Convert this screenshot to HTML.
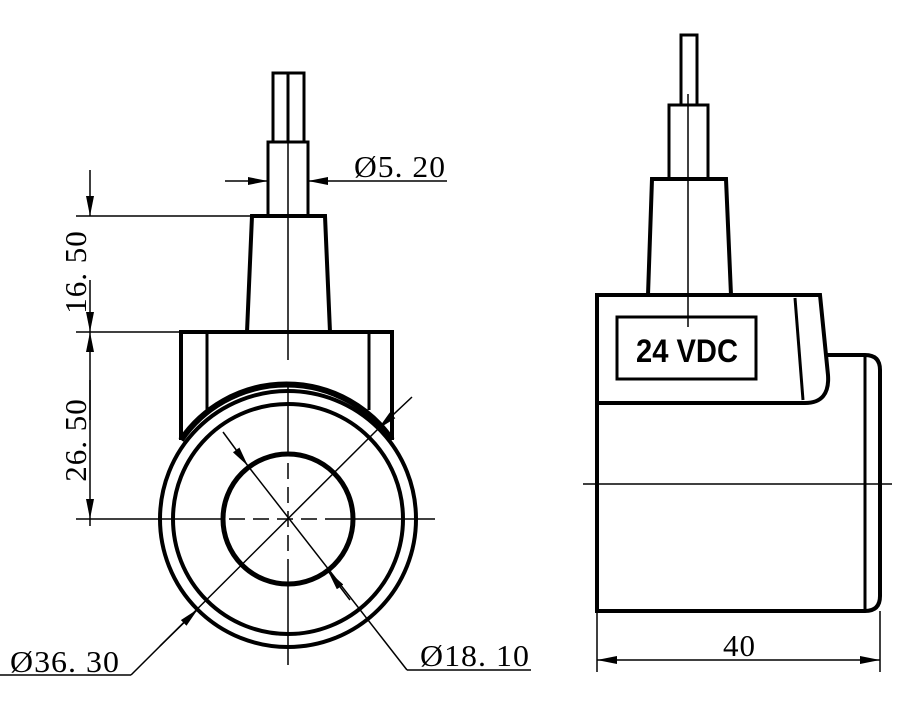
<!DOCTYPE html>
<html><head><meta charset="utf-8"><style>
html,body{margin:0;padding:0;background:#fff;}
svg{display:block;}
text{font-family:"Liberation Serif",serif;fill:#000;}
</style></head><body>
<svg width="900" height="711" viewBox="0 0 900 711" xmlns="http://www.w3.org/2000/svg">
<defs>
<marker id="a" viewBox="0 0 20 8" refX="20" refY="4" markerWidth="20" markerHeight="8" markerUnits="userSpaceOnUse" orient="auto"><path d="M0,0 L20,4 L0,8 Z" fill="#000"/></marker>
</defs>
<g fill="none" stroke="#000">
<rect x="273" y="73" width="31" height="69" stroke-width="3"/>
<line x1="288" y1="73" x2="288" y2="142" stroke-width="3"/>
<rect x="268" y="142" width="40" height="74" stroke-width="3"/>
<path d="M252,216 L325,216 L330,332 L247,332 Z" stroke-width="4"/>
<path d="M181,440 L181,332 L392,332 L392,440" stroke-width="4"/>
<line x1="207" y1="332" x2="207" y2="410" stroke-width="3"/>
<line x1="369" y1="332" x2="369" y2="410" stroke-width="3"/>
<circle cx="288" cy="519" r="128" stroke-width="4"/>
<path d="M181,440 A128,128 0 0 1 392,440" stroke-width="6"/>
<circle cx="288" cy="519" r="115" stroke-width="4"/>
<circle cx="288" cy="519" r="65" stroke-width="5"/>
<line x1="288" y1="73" x2="288" y2="360" stroke-width="1.5"/>
<line x1="288" y1="385" x2="288" y2="665" stroke-width="1.5" stroke-dasharray="70,8,16,8,16,8,16,8,16,8,200"/>
<line x1="76" y1="519" x2="435" y2="519" stroke-width="1.5" stroke-dasharray="145,8,16,8,16,8,16,8,16,8,300"/>
<line x1="225" y1="181" x2="268" y2="181" stroke-width="1.5" marker-end="url(#a)"/>
<line x1="447" y1="181" x2="308" y2="181" stroke-width="1.5" marker-end="url(#a)"/>
<line x1="76" y1="216" x2="252" y2="216" stroke-width="1.5"/>
<line x1="76" y1="332" x2="181" y2="332" stroke-width="1.5"/>
<line x1="90" y1="170" x2="90" y2="216" stroke-width="1.5" marker-end="url(#a)"/>
<line x1="90" y1="280" x2="90" y2="332" stroke-width="1.5" marker-end="url(#a)"/>
<line x1="90" y1="420" x2="90" y2="332" stroke-width="1.5" marker-end="url(#a)"/>
<line x1="90" y1="380" x2="90" y2="519" stroke-width="1.5" marker-end="url(#a)"/>
<line x1="90" y1="519" x2="90" y2="526" stroke-width="1.5"/>
<line x1="412" y1="397" x2="378" y2="429" stroke-width="1.5" marker-end="url(#a)"/>
<line x1="378" y1="429" x2="131" y2="675" stroke-width="1.5"/>
<line x1="160" y1="646" x2="198" y2="609" stroke-width="1.5" marker-end="url(#a)"/>
<line x1="131" y1="675" x2="0" y2="675" stroke-width="1.5"/>
<line x1="223" y1="432" x2="248" y2="466" stroke-width="1.5" marker-end="url(#a)"/>
<line x1="248" y1="466" x2="407" y2="670" stroke-width="1.5"/>
<line x1="350" y1="600" x2="328" y2="571" stroke-width="1.5" marker-end="url(#a)"/>
<line x1="407" y1="670" x2="531" y2="670" stroke-width="1.5"/>

<rect x="681" y="35" width="16" height="70" stroke-width="3"/>
<rect x="669" y="105" width="39" height="74" stroke-width="3"/>
<path d="M652,179 L726,179 L731,295 L648,295 Z" stroke-width="4"/>
<path d="M597,403 L597,295 L820,295 L828,375 Q830,403 805,403 Z" stroke-width="4"/>
<line x1="795" y1="298" x2="803" y2="400" stroke-width="3"/>
<rect x="617" y="317" width="139" height="62" stroke-width="3"/>
<path d="M597,403 L597,611 L865,611 Q880,611 880,596 L880,370 Q880,355 865,355 L827,355" stroke-width="4"/>
<line x1="865" y1="355" x2="865" y2="611" stroke-width="3"/>
<line x1="688" y1="94" x2="688" y2="327" stroke-width="1.5"/>
<line x1="583" y1="484" x2="892" y2="484" stroke-width="1.5"/>
<line x1="597" y1="611" x2="597" y2="672" stroke-width="1.5"/>
<line x1="880" y1="611" x2="880" y2="672" stroke-width="1.5"/>
<line x1="650" y1="660" x2="597" y2="660" stroke-width="1.5" marker-end="url(#a)"/>
<line x1="830" y1="660" x2="880" y2="660" stroke-width="1.5" marker-end="url(#a)"/>
<line x1="650" y1="660" x2="830" y2="660" stroke-width="1.5"/>
</g>
<g style="font-size:31px;letter-spacing:1px">
<text x="354" y="177" textLength="92" lengthAdjust="spacingAndGlyphs">Ø5. 20</text>
<text x="10" y="672" textLength="110" lengthAdjust="spacingAndGlyphs">Ø36. 30</text>
<text x="420" y="666" textLength="110" lengthAdjust="spacingAndGlyphs">Ø18. 10</text>
<text x="723" y="656">40</text>
<text transform="translate(86,272) rotate(-90)" text-anchor="middle">16. 50</text>
<text transform="translate(86,440) rotate(-90)" text-anchor="middle">26. 50</text>
</g>
<text x="636" y="362" textLength="102" lengthAdjust="spacingAndGlyphs" style="font-family:'Liberation Sans',sans-serif;font-weight:bold;font-size:32px">24 VDC</text>
</svg>
</body></html>
